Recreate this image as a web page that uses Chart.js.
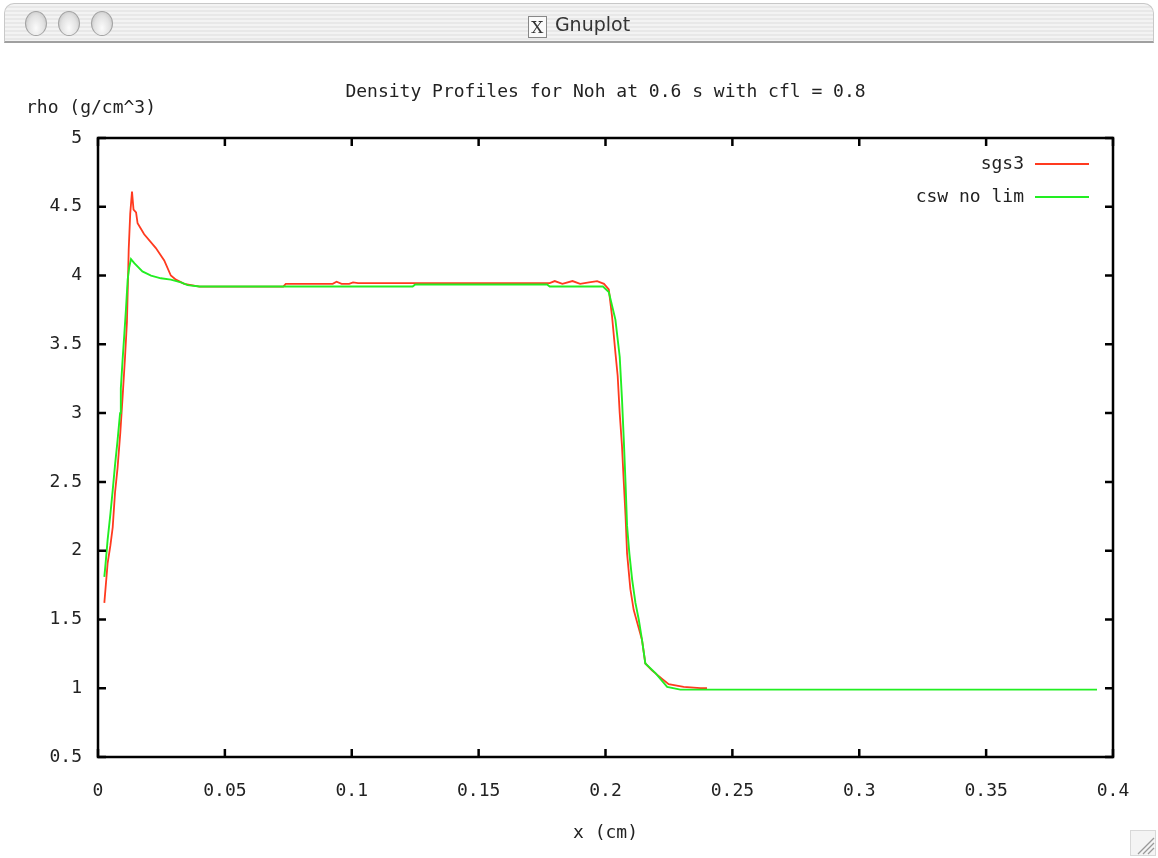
<!DOCTYPE html>
<html>
<head>
<meta charset="utf-8">
<title>Gnuplot</title>
<script src="https://cdn.jsdelivr.net/npm/chart.js@4.4.1/dist/chart.umd.min.js"></script>
<style>
  html, body { margin: 0; padding: 0; background: #fff; }
  body { width: 1158px; height: 858px; position: relative; overflow: hidden; }
  #titlebar {
    position: absolute; left: 4px; top: 3px; width: 1150px; height: 40px;
    border-radius: 10px 10px 0 0;
    background: repeating-linear-gradient(to bottom, #f3f3f3 0px, #f3f3f3 2px, #e8e8e8 2px, #e8e8e8 4px);
    border: 1px solid #c8c8c8; border-bottom: 2px solid #a0a0a0;
    box-sizing: border-box;
  }
  .light {
    position: absolute; top: 7px; width: 22px; height: 25px; border-radius: 50%;
    background: radial-gradient(ellipse at 50% 70%, #fbfbfb 0%, #e2e2e2 55%, #b8b8b8 100%);
    border: 1px solid #a2a2a2; box-sizing: border-box;
  }
  #wtitle {
    position: absolute; left: 0; right: 0; top: 9px; text-align: center;
    font-family: "DejaVu Sans", sans-serif; font-size: 19px; color: #333;
  }
  #wtitle .xicon {
    display: inline-block; width: 17px; height: 20px; border: 1px solid #888;
    font-size: 17px; line-height: 20px; margin-right: 8px; vertical-align: -2px;
    background: #fafafa; font-family: "DejaVu Serif", serif;
  }
  #chartbox { position: absolute; left: 0; top: 0; width: 1158px; height: 858px; }
  #grip { position: absolute; right: 2px; bottom: 2px; width: 26px; height: 26px; }
</style>
</head>
<body>
<div id="chartbox"><canvas id="myChart" width="1158" height="858"></canvas></div>
<div id="titlebar">
  <div class="light" style="left:20px"></div>
  <div class="light" style="left:53px"></div>
  <div class="light" style="left:86px"></div>
  <div id="wtitle"><span class="xicon">X</span>Gnuplot</div>
</div>
<svg id="grip" viewBox="0 0 26 26">
  <rect x="0.5" y="0.5" width="25" height="25" fill="#f4f4f4" stroke="#d8d8d8"/>
  <path d="M8 24 L24 8 M13 24 L24 13 M18 24 L24 18" stroke="#999" stroke-width="1.3"/>
</svg>
<script>
const chartTitle = 'Density Profiles for Noh at 0.6 s with cfl = 0.8';
const xTitle = 'x (cm)';
const yTitle = 'rho (g/cm^3)';
const xTicks = [0, 0.05, 0.1, 0.15, 0.2, 0.25, 0.3, 0.35, 0.4];
const yTicks = [0.5, 1, 1.5, 2, 2.5, 3, 3.5, 4, 4.5, 5];

const seriesNames = ['sgs3', 'csw no lim'];
const seriesColors = ['#ff3a1f', '#22ee22'];

const sgsX = [0.0025, 0.0038, 0.0049, 0.0058, 0.0067, 0.0077, 0.0088, 0.0097, 0.0106, 0.0114,
  0.0118, 0.0121, 0.0127, 0.0134, 0.0140, 0.0150, 0.0156, 0.0182, 0.0228, 0.0261,
  0.0287, 0.0307, 0.0340, 0.0400, 0.0730, 0.0740, 0.0925, 0.0940, 0.0960, 0.0990,
  0.1005, 0.1025, 0.1780, 0.1800, 0.1830, 0.1870, 0.1900, 0.1935, 0.1967, 0.1994,
  0.2013, 0.2026, 0.2039, 0.2048, 0.2056, 0.2065, 0.2072, 0.2079, 0.2085, 0.2098,
  0.2111, 0.2144, 0.2157, 0.2183, 0.2222, 0.2249, 0.2308, 0.2374, 0.2400];
const sgsY = [1.62, 1.91, 2.04, 2.17, 2.42, 2.60, 2.86, 3.12, 3.39, 3.66,
  3.95, 4.19, 4.45, 4.61, 4.48, 4.46, 4.38, 4.30, 4.20, 4.11,
  4.00, 3.97, 3.94, 3.92, 3.92, 3.94, 3.94, 3.955, 3.94, 3.94,
  3.95, 3.945, 3.945, 3.96, 3.94, 3.96, 3.94, 3.95, 3.96, 3.94,
  3.90, 3.70, 3.44, 3.27, 3.00, 2.76, 2.50, 2.25, 1.98, 1.72,
  1.57, 1.35, 1.18, 1.13, 1.07, 1.03, 1.01, 1.00, 1.00];

const cswX = [0.0025, 0.0030, 0.0038, 0.0049, 0.0058, 0.0067, 0.0077, 0.0087, 0.0090, 0.0097,
  0.0104, 0.0110, 0.0117, 0.0123, 0.0130, 0.0143, 0.0175, 0.0209, 0.0248, 0.0287,
  0.0327, 0.0353, 0.0400, 0.1240, 0.1250, 0.1770, 0.1780, 0.1990, 0.2013, 0.2039,
  0.2056, 0.2065, 0.2072, 0.2079, 0.2085, 0.2094, 0.2105, 0.2118, 0.2131, 0.2144,
  0.2157, 0.2197, 0.2243, 0.2295, 0.3937];
const cswY = [1.81, 1.91, 2.08, 2.27, 2.44, 2.62, 2.80, 3.00, 3.18, 3.39,
  3.58, 3.75, 3.97, 4.06, 4.12, 4.09, 4.03, 4.00, 3.98, 3.97,
  3.95, 3.93, 3.92, 3.92, 3.935, 3.935, 3.92, 3.92, 3.88, 3.68,
  3.41, 3.10, 2.81, 2.49, 2.18, 1.98, 1.79, 1.62, 1.50, 1.35,
  1.18, 1.11, 1.01, 0.99, 0.99];

const toPoints = (xs, ys) => xs.map((x, i) => ({ x: x, y: ys[i] }));
const fontMono = '"DejaVu Sans Mono", monospace';

// gnuplot style frame, inward mirrored ticks, titles and key
const gnuplotDecor = {
    id: 'gnuplotDecor',
    afterDraw(chart) {
        const ctx = chart.ctx;
        const a = chart.chartArea;
        const xs = chart.scales.x, ys = chart.scales.y;
        ctx.save();
        ctx.strokeStyle = '#000';
        ctx.lineWidth = 2.5;
        ctx.strokeRect(a.left, a.top, a.right - a.left, a.bottom - a.top);
        ctx.beginPath();
        const t = 8;
        xTicks.forEach(v => {
            const px = xs.getPixelForValue(v);
            ctx.moveTo(px, a.bottom); ctx.lineTo(px, a.bottom - t);
            ctx.moveTo(px, a.top); ctx.lineTo(px, a.top + t);
        });
        yTicks.forEach(v => {
            const py = ys.getPixelForValue(v);
            ctx.moveTo(a.left, py); ctx.lineTo(a.left + t, py);
            ctx.moveTo(a.right, py); ctx.lineTo(a.right - t, py);
        });
        ctx.stroke();

        ctx.fillStyle = '#222';
        ctx.font = '18px ' + fontMono;
        ctx.textBaseline = 'middle';
        ctx.textAlign = 'center';
        ctx.fillText(chartTitle, (a.left + a.right) / 2, 92);
        ctx.fillText(xTitle, (a.left + a.right) / 2, 833);
        ctx.textAlign = 'left';
        ctx.fillText(yTitle, 26, 108);

        // key
        chart.data.datasets.forEach((ds, i) => {
            const y = 164 + i * 33;
            ctx.textAlign = 'right';
            ctx.fillStyle = '#222';
            ctx.fillText(ds.label, 1024, y);
            ctx.strokeStyle = ds.borderColor;
            ctx.lineWidth = 2;
            ctx.beginPath();
            ctx.moveTo(1035, y); ctx.lineTo(1089, y);
            ctx.stroke();
        });
        ctx.restore();
    }
};

const ctx = document.getElementById('myChart').getContext('2d');
const myChart = new Chart(ctx, {
    type: 'line',
    data: {
        datasets: [{
            label: seriesNames[0],
            data: toPoints(sgsX, sgsY),
            borderColor: seriesColors[0],
            borderWidth: 1.8,
            pointRadius: 0,
            tension: 0,
            order: 2
        }, {
            label: seriesNames[1],
            data: toPoints(cswX, cswY),
            borderColor: seriesColors[1],
            borderWidth: 1.9,
            pointRadius: 0,
            tension: 0,
            order: 1
        }]
    },
    options: {
        responsive: false,
        animation: false,
        layout: { padding: { left: 0, right: 45, top: 138, bottom: 0 } },
        plugins: {
            legend: { display: false },
            tooltip: { enabled: false }
        },
        scales: {
            x: {
                type: 'linear',
                min: 0,
                max: 0.4,
                afterBuildTicks: s => { s.ticks = xTicks.map(v => ({ value: v })); },
                afterFit: s => { s.height = 101; },
                grid: { display: false, drawTicks: false },
                border: { display: false },
                ticks: {
                    padding: 24,
                    color: '#222',
                    font: { family: fontMono, size: 18 },
                    maxRotation: 0,
                    callback: v => String(+v.toFixed(2))
                }
            },
            y: {
                type: 'linear',
                min: 0.5,
                max: 5,
                afterBuildTicks: s => { s.ticks = yTicks.map(v => ({ value: v })); },
                afterFit: s => { s.width = 98; },
                grid: { display: false, drawTicks: false },
                border: { display: false },
                ticks: {
                    padding: 16,
                    color: '#222',
                    font: { family: fontMono, size: 18 },
                    callback: v => String(+v.toFixed(2))
                }
            }
        }
    },
    plugins: [gnuplotDecor]
});
</script>
</body>
</html>
